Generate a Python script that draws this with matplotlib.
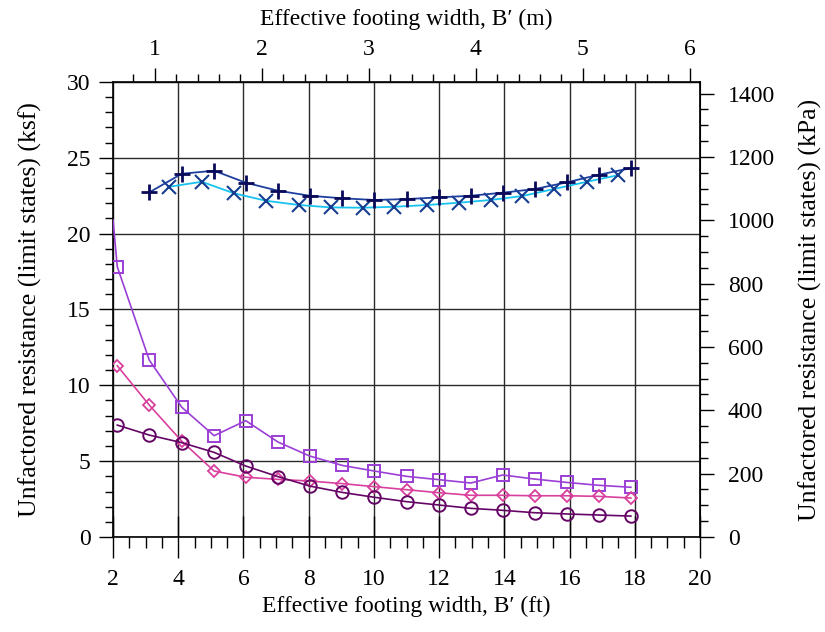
import matplotlib.pyplot as plt
from matplotlib.ticker import MultipleLocator

plt.rcParams['font.family'] = ['Liberation Serif', 'DejaVu Serif']
plt.rcParams['font.size'] = 17

# effective footing width (ft)
x_main = [2.13, 3.11, 4.11, 5.10, 6.07, 7.06, 8.03, 9.03, 10.01, 11.0,
          11.99, 12.97, 13.95, 14.93, 15.91, 16.89, 17.88]
x_plus = x_main[1:]
x_cross = [3.72, 4.72, 5.71, 6.69, 7.69, 8.68, 9.66, 10.62, 11.64,
           12.61, 13.58, 14.55, 15.52, 16.53, 17.50]

# unfactored resistance (ksf)
plus_vals = [22.72, 23.95, 24.15, 23.36, 22.83, 22.50, 22.33, 22.22, 22.28,
             22.39, 22.50, 22.70, 22.94, 23.38, 23.88, 24.32]
cross_vals = [23.09, 23.42, 22.66, 22.17, 21.89, 21.73, 21.71, 21.77, 21.89,
              22.04, 22.22, 22.48, 22.94, 23.42, 23.86]
# square series: first point (x=2.0) is the line start with no marker
x_square = [2.0] + x_main
square_vals = [20.9, 17.82, 11.67, 8.55, 6.68, 7.67, 6.26, 5.34, 4.72, 4.35,
               4.0, 3.78, 3.56, 4.09, 3.82, 3.6, 3.41, 3.28]
diamond_vals = [11.29, 8.70, 6.31, 4.35, 3.94, 3.80, 3.69, 3.52, 3.32, 3.12,
                2.92, 2.75, 2.75, 2.72, 2.72, 2.68, 2.57]
circle_vals = [7.38, 6.72, 6.22, 5.58, 4.68, 3.98, 3.36, 2.94, 2.62, 2.33,
               2.11, 1.89, 1.76, 1.60, 1.52, 1.45, 1.38]

FT_TO_M = 0.3048
KSF_TO_KPA = 47.88

fig = plt.figure(figsize=(8.25, 6.32), dpi=100)
ax = fig.add_axes([0.137, 0.1503, 0.7115, 0.72])

ax.plot(x_cross, cross_vals, color='#19c3f0', lw=1.3, zorder=3)
ax.plot(x_cross, cross_vals, ls='none', marker='x', ms=10, mew=1.5,
        color='#163d8f', zorder=4)
ax.plot(x_plus, plus_vals, color='#1f3f9e', lw=1.3, marker='+', ms=11,
        mew=2, mec='#0a0a5a', zorder=5)
ax.plot(x_square, square_vals, color='#9b3fd6', lw=1.2, marker='s', ms=8,
        mfc='none', mew=1.4, markevery=slice(1, None), zorder=3)
ax.plot(x_main, diamond_vals, color='#d9409e', lw=1.2, marker='D', ms=6.5,
        mfc='none', mew=1.3, zorder=3)
ax.plot(x_main, circle_vals, color='#650565', lw=1.2, marker='o', ms=9,
        mfc='none', mew=1.4, zorder=3)

ax.set_xlim(2, 20)
ax.set_ylim(0, 30)
ax.xaxis.set_major_locator(MultipleLocator(2))
ax.xaxis.set_minor_locator(MultipleLocator(0.5))
ax.yaxis.set_major_locator(MultipleLocator(5))
ax.yaxis.set_minor_locator(MultipleLocator(1))
ax.grid(True, which='major', color='#2a2a2a', lw=1)
ax.set_axisbelow(True)

ax.tick_params(axis='x', which='major', direction='inout', length=30, width=1, pad=8)
ax.tick_params(axis='x', which='minor', direction='out', length=8, width=1)
ax.tick_params(axis='y', which='major', direction='out', length=10, width=1, pad=6)
ax.tick_params(axis='y', which='minor', direction='out', length=6, width=1)
for s in ax.spines.values():
    s.set_linewidth(1.2)

ax.set_xlabel('Effective footing width, B\u2032 (ft)', labelpad=4)
ax.set_ylabel('Unfactored resistance (limit states) (ksf)', labelpad=18,
              fontsize=18.5)

top = ax.secondary_xaxis('top', functions=(lambda v: v * FT_TO_M,
                                           lambda v: v / FT_TO_M))
top.xaxis.set_major_locator(MultipleLocator(1))
top.xaxis.set_minor_locator(MultipleLocator(0.2))
top.tick_params(which='major', direction='out', length=10, width=1, pad=6)
top.tick_params(which='minor', direction='out', length=6, width=1)
top.set_xlabel('Effective footing width, B\u2032 (m)', labelpad=10)

right = ax.secondary_yaxis('right', functions=(lambda v: v * KSF_TO_KPA,
                                               lambda v: v / KSF_TO_KPA))
right.yaxis.set_major_locator(MultipleLocator(200))
right.yaxis.set_minor_locator(MultipleLocator(50))
right.tick_params(which='major', direction='out', length=10, width=1, pad=10)
right.tick_params(which='minor', direction='out', length=6, width=1)
right.set_ylabel('Unfactored resistance (limit states) (kPa)', labelpad=17,
                 fontsize=18.5)

fig.savefig('out.png', dpi=100)
